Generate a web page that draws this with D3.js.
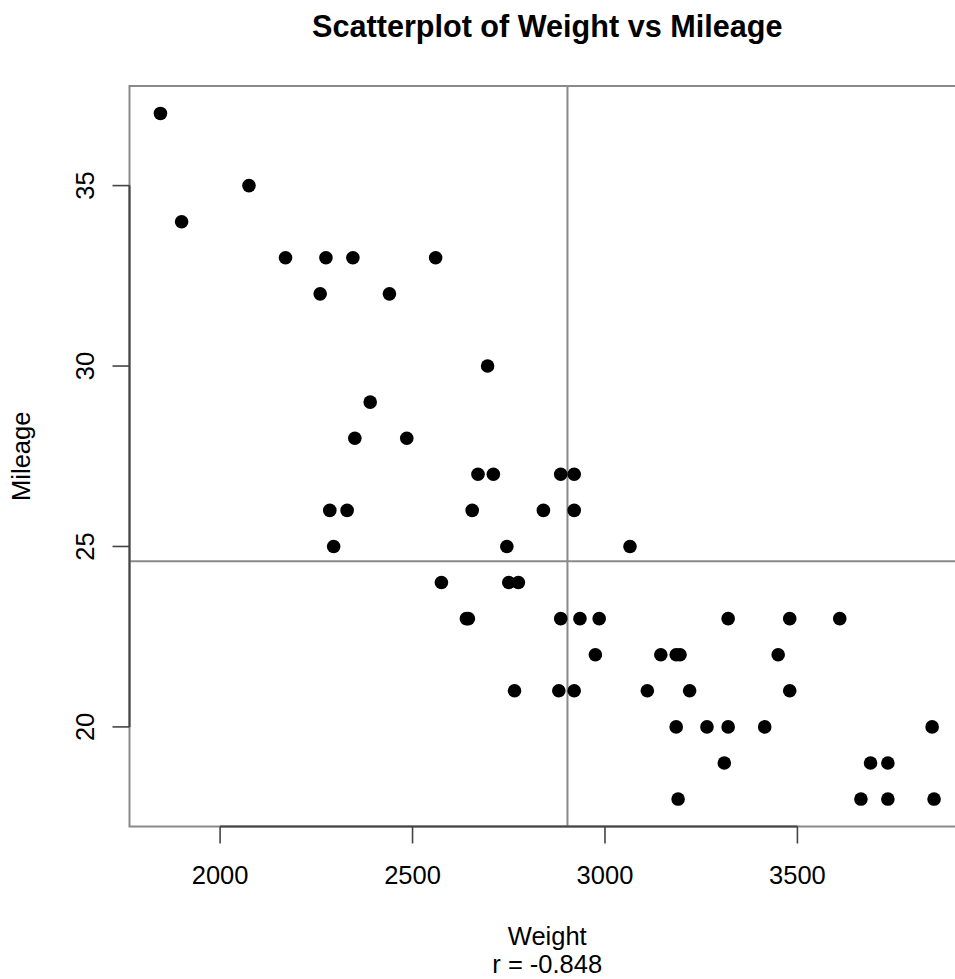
<!DOCTYPE html>
<html>
<head>
<meta charset="utf-8">
<script src="https://cdn.jsdelivr.net/npm/d3@7"></script>
<style>
  html, body { margin: 0; padding: 0; background: #fff; overflow: hidden; }
  svg { display: block; }
  text { font-family: "Liberation Sans", Arial, Helvetica, sans-serif; fill: #000; }
</style>
</head>
<body>
<svg id="chart" width="955" height="979"></svg>
<script>
// Car weights (lb) and fuel mileage (mpg)
const weight = [
  1845, 2075, 1900,
  2170, 2275, 2345, 2560,
  2260, 2440,
  2695, 2390,
  2350, 2485,
  2670, 2710, 2885, 2920,
  2285, 2330, 2655, 2840, 2920,
  2295, 2745, 3065,
  2575, 2750, 2775,
  2640, 2645, 2885, 2935, 2985, 3320, 3480, 3610,
  2975, 3145, 3185, 3195, 3450,
  2765, 2880, 2920, 3110, 3220, 3480,
  3185, 3265, 3320, 3415, 3850,
  3310, 3690, 3735,
  3190, 3665, 3735, 3855
];
const mileage = [
  37, 35, 34,
  33, 33, 33, 33,
  32, 32,
  30, 29,
  28, 28,
  27, 27, 27, 27,
  26, 26, 26, 26, 26,
  25, 25, 25,
  24, 24, 24,
  23, 23, 23, 23, 23, 23, 23, 23,
  22, 22, 22, 22, 22,
  21, 21, 21, 21, 21, 21,
  20, 20, 20, 20, 20,
  19, 19, 19,
  18, 18, 18, 18
];
const xTicks = [2000, 2500, 3000, 3500];
const yTicks = [20, 25, 30, 35];
const titleText = "Scatterplot of Weight vs Mileage";
const xLabel = "Weight";
const yLabel = "Mileage";
const subLabel = "r = -0.848";

const svg = d3.select("#chart");

// Plot region; the right edge runs past the window
const plotL = 129.5, plotR = 965, plotT = 86, plotB = 826.5;

// Axis limits padded 4% beyond the data range
const pad = (lo, hi) => [lo - 0.04 * (hi - lo), hi + 0.04 * (hi - lo)];
const xDom = pad(d3.min(weight), d3.max(weight));
const yDom = pad(d3.min(mileage), d3.max(mileage));

const x = d3.scaleLinear().domain(xDom).range([plotL, plotR]);
const y = d3.scaleLinear().domain(yDom).range([plotB, plotT]);

const pts = weight.map((w, i) => ({ w, m: mileage[i] }));

// Reference lines at the means
const mx = d3.mean(weight), my = d3.mean(mileage);
svg.append("line")
  .attr("x1", x(mx)).attr("x2", x(mx))
  .attr("y1", plotT).attr("y2", plotB)
  .attr("stroke", "#8a8a8a").attr("stroke-width", 2);
svg.append("line")
  .attr("x1", plotL).attr("x2", plotR)
  .attr("y1", y(my)).attr("y2", y(my))
  .attr("stroke", "#8a8a8a").attr("stroke-width", 2);

// Plot frame
svg.append("rect")
  .attr("x", plotL).attr("y", plotT)
  .attr("width", plotR - plotL).attr("height", plotB - plotT)
  .attr("fill", "none").attr("stroke", "#8a8a8a").attr("stroke-width", 2);

// Points
svg.append("g").selectAll("circle").data(pts).join("circle")
  .attr("cx", d => x(d.w)).attr("cy", d => y(d.m))
  .attr("r", 6.8).attr("fill", "#000");

// Bottom axis
const xAxis = svg.append("g").attr("transform", `translate(0,${plotB})`);
xAxis.append("line")
  .attr("x1", x(xTicks[0])).attr("x2", x(xTicks[xTicks.length - 1]))
  .attr("stroke", "#444").attr("stroke-width", 2);
xAxis.selectAll("line.tick").data(xTicks).join("line").attr("class", "tick")
  .attr("x1", d => x(d)).attr("x2", d => x(d))
  .attr("y1", 0).attr("y2", 17)
  .attr("stroke", "#444").attr("stroke-width", 1.6);
xAxis.selectAll("text").data(xTicks).join("text")
  .attr("x", d => x(d)).attr("y", 57)
  .attr("text-anchor", "middle").attr("font-size", 25.5)
  .text(d => d);

// Left axis
const yAxis = svg.append("g").attr("transform", `translate(${plotL},0)`);
yAxis.append("line")
  .attr("y1", y(yTicks[0])).attr("y2", y(yTicks[yTicks.length - 1]))
  .attr("stroke", "#444").attr("stroke-width", 2);
yAxis.selectAll("line.tick").data(yTicks).join("line").attr("class", "tick")
  .attr("y1", d => y(d)).attr("y2", d => y(d))
  .attr("x1", 0).attr("x2", -17)
  .attr("stroke", "#444").attr("stroke-width", 1.6);
yAxis.selectAll("text").data(yTicks).join("text")
  .attr("transform", d => `translate(-35.5,${y(d)}) rotate(-90)`)
  .attr("text-anchor", "middle").attr("font-size", 25.5)
  .text(d => d);

// Titles
const cx = (plotL + plotR) / 2;
svg.append("text")
  .attr("x", cx).attr("y", 37)
  .attr("text-anchor", "middle").attr("font-size", 30.6).attr("font-weight", "bold")
  .text(titleText);
svg.append("text")
  .attr("x", cx).attr("y", 945)
  .attr("text-anchor", "middle").attr("font-size", 25.5)
  .text(xLabel);
svg.append("text")
  .attr("x", cx).attr("y", 972.5)
  .attr("text-anchor", "middle").attr("font-size", 25.5)
  .text(subLabel);
svg.append("text")
  .attr("transform", `translate(30,${(plotT + plotB) / 2}) rotate(-90)`)
  .attr("text-anchor", "middle").attr("font-size", 25.5)
  .text(yLabel);
</script>
</body>
</html>
